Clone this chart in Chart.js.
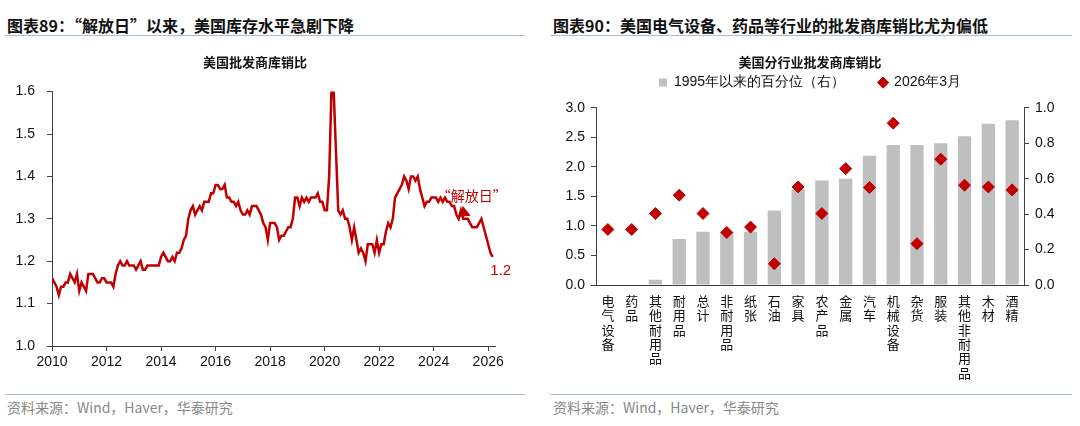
<!DOCTYPE html>
<html>
<head>
<meta charset="utf-8">
<script src="https://cdn.jsdelivr.net/npm/chart.js@4.4.1/dist/chart.umd.min.js"></script>
<style>
  body { margin: 0; width: 1080px; height: 426px; background: #fff; position: relative; overflow: hidden; font-family: "Noto Sans CJK SC", sans-serif; }
  .hd { position: absolute; top: 13px; font-size: 16px; font-weight: bold; color: #111; white-space: nowrap; }
  .rule { position: absolute; height: 1px; background: #a7bed5; }
  .src { position: absolute; top: 397px; font-size: 14px; color: #888; white-space: nowrap; }
  canvas { position: absolute; }
</style>
</head>
<body>
<div class="hd" style="left:7px">图表89：“解放日”以来，美国库存水平急剧下降</div>
<div class="rule" style="left:5px;top:35px;width:520px"></div>
<div class="hd" style="left:553px">图表90：美国电气设备、药品等行业的批发商库销比尤为偏低</div>
<div class="rule" style="left:550px;top:35px;width:522px"></div>

<canvas id="left" width="540" height="345" style="left:0;top:40px"></canvas>
<canvas id="right" width="540" height="350" style="left:540px;top:40px"></canvas>

<div class="rule" style="left:5px;top:394px;width:520px"></div>
<div class="src" style="left:7px">资料来源：Wind，Haver，华泰研究</div>
<div class="rule" style="left:550px;top:394px;width:522px"></div>
<div class="src" style="left:553px">资料来源：Wind，Haver，华泰研究</div>

<script>
// 美国批发商库销比, monthly from Jan 2010 to Mar 2026
const ratioStart = 2010;
const ratio = [
  1.16, 1.15, 1.14, 1.12, 1.14, 1.14, 1.15, 1.15, 1.17, 1.16, 1.15, 1.17,
  1.13, 1.15, 1.14, 1.13, 1.17, 1.17, 1.17, 1.16, 1.15, 1.15, 1.16, 1.16,
  1.15, 1.15, 1.15, 1.14, 1.17, 1.19, 1.20, 1.19, 1.19, 1.20, 1.19, 1.19,
  1.19, 1.18, 1.19, 1.20, 1.18, 1.18, 1.19, 1.19, 1.19, 1.19, 1.19, 1.19,
  1.21, 1.22, 1.21, 1.20, 1.20, 1.21, 1.20, 1.22, 1.22, 1.23, 1.25, 1.26,
  1.30, 1.32, 1.33, 1.31, 1.32, 1.33, 1.32, 1.34, 1.34, 1.34, 1.36, 1.36,
  1.38, 1.38, 1.37, 1.37, 1.38, 1.35, 1.35, 1.34, 1.34, 1.33, 1.34, 1.32,
  1.31, 1.31, 1.32, 1.31, 1.33, 1.33, 1.33, 1.32, 1.31, 1.29, 1.28, 1.25,
  1.29, 1.29, 1.29, 1.28, 1.25, 1.26, 1.26, 1.27, 1.28, 1.28, 1.30, 1.35,
  1.35, 1.33, 1.35, 1.34, 1.35, 1.34, 1.35, 1.35, 1.35, 1.36, 1.34, 1.34,
  1.32, 1.32, 1.40, 1.60, 1.60, 1.46, 1.32, 1.31, 1.32, 1.30, 1.30, 1.28,
  1.25, 1.28, 1.25, 1.22, 1.23, 1.22, 1.20, 1.24, 1.24, 1.24, 1.22, 1.25,
  1.22, 1.24, 1.24, 1.27, 1.29, 1.28, 1.30, 1.35, 1.36, 1.37, 1.38, 1.40,
  1.39, 1.37, 1.40, 1.40, 1.39, 1.40, 1.37, 1.35, 1.33, 1.34, 1.34, 1.35,
  1.35, 1.35, 1.34, 1.35, 1.34, 1.35, 1.34, 1.34, 1.33, 1.33, 1.31, 1.30,
  1.32, 1.30, 1.30, 1.30, 1.29, 1.28, 1.28, 1.28, 1.29, 1.30, 1.28, 1.26,
  1.24, 1.22, 1.21
];
const yearTicks = [2010, 2012, 2014, 2016, 2018, 2020, 2022, 2024, 2026];
const ratioTicks = [1.0, 1.1, 1.2, 1.3, 1.4, 1.5, 1.6];
const liberationIdx = 183; // 2025年4月
const liberationText = '“解放日”';

// 美国分行业批发商库销比
const sectors = ['电气设备', '药品', '其他耐用品', '耐用品', '总计', '非耐用品', '纸张', '石油', '家具',
  '农产品', '金属', '汽车', '机械设备', '杂货', '服装', '其他非耐用品', '木材', '酒精'];
const percentile = [0, 0, 0.03, 0.26, 0.30, 0.30, 0.30, 0.42, 0.54, 0.59, 0.60, 0.73, 0.79, 0.79, 0.80, 0.84, 0.91, 0.93];
const latest = [0.94, 0.94, 1.21, 1.52, 1.21, 0.89, 0.98, 0.36, 1.66, 1.21, 1.97, 1.65, 2.74, 0.70, 2.13, 1.69, 1.66, 1.61];
const leftTicks = [0, 0.5, 1.0, 1.5, 2.0, 2.5, 3.0];
const rightTicks = [0, 0.2, 0.4, 0.6, 0.8, 1.0];

const red = '#c00000';
const axisColor = '#404040';
const tickFont = { family: '"Liberation Sans", Arial, sans-serif', size: 14 };
const cjk = '"Noto Sans CJK SC", sans-serif';

const libPlugin = {
  id: 'libMarks',
  afterDatasetsDraw(chart) {
    const { ctx, scales: { x, y } } = chart;
    const px = x.getPixelForValue(ratioStart + liberationIdx / 12);
    const py = y.getPixelForValue(ratio[liberationIdx]);
    ctx.save();
    ctx.fillStyle = red;
    ctx.beginPath();
    ctx.moveTo(px - 5, py - 13);
    ctx.lineTo(px + 3, py - 3);
    ctx.lineTo(px - 8, py - 2);
    ctx.closePath();
    ctx.fill();
    ctx.font = '14px ' + cjk;
    ctx.textAlign = 'center';
    ctx.textBaseline = 'middle';
    ctx.fillText(liberationText, px + 4, py - 23);
    const last = ratio.length - 1;
    const lx = x.getPixelForValue(ratioStart + last / 12);
    const ly = y.getPixelForValue(ratio[last]);
    ctx.font = '15px "Liberation Sans", Arial, sans-serif';
    ctx.fillText(ratio[last].toFixed(1), lx + 8, ly + 14);
    ctx.restore();
  }
};

new Chart(document.getElementById('left'), {
  type: 'line',
  data: {
    datasets: [{
      data: ratio.map((v, i) => ({ x: ratioStart + i / 12, y: v })),
      borderColor: red,
      borderWidth: 2.5,
      pointRadius: 0,
      tension: 0
    }]
  },
  options: {
    responsive: false,
    animation: false,
    layout: { padding: { left: 15, right: 45, top: 6, bottom: 0 } },
    plugins: {
      legend: { display: false },
      tooltip: { enabled: false },
      title: {
        display: true,
        text: '美国批发商库销比',
        color: '#111',
        font: { family: cjk, size: 13, weight: 'bold' },
        padding: { top: 8, bottom: 22 }
      }
    },
    scales: {
      x: {
        type: 'linear',
        min: 2010,
        max: 2026.25,
        afterBuildTicks: s => { s.ticks = yearTicks.map(v => ({ value: v })); },
        afterFit: s => { s.height = 39; },
        ticks: { font: tickFont, color: '#111', padding: 3, maxRotation: 0, autoSkip: false, callback: v => String(v) },
        grid: { drawOnChartArea: false, tickLength: 5, color: axisColor },
        border: { color: axisColor }
      },
      y: {
        min: 1.0,
        max: 1.6,
        afterBuildTicks: s => { s.ticks = ratioTicks.map(v => ({ value: v })); },
        afterFit: s => { s.width = 37; },
        ticks: { font: tickFont, color: '#111', padding: 12, callback: v => v.toFixed(1) },
        grid: { drawOnChartArea: false, tickLength: 5, color: axisColor },
        border: { color: axisColor }
      }
    }
  },
  plugins: [libPlugin]
});

new Chart(document.getElementById('right'), {
  type: 'bar',
  data: {
    labels: sectors.map(s => s.split('')),
    datasets: [{
      type: 'line',
      label: '2026年3月',
      data: latest,
      yAxisID: 'y',
      showLine: false,
      pointStyle: 'rectRot',
      pointRadius: 6,
      pointHoverRadius: 6,
      backgroundColor: red,
      borderColor: red,
      order: 1
    }, {
      label: '1995年以来的百分位（右）',
      data: percentile,
      yAxisID: 'y1',
      backgroundColor: '#bfbfbf',
      barPercentage: 0.56,
      categoryPercentage: 1,
      pointStyle: 'rect',
      order: 2
    }]
  },
  options: {
    responsive: false,
    animation: false,
    layout: { padding: { left: 10, right: 10, top: 6, bottom: 0 } },
    plugins: {
      tooltip: { enabled: false },
      title: {
        display: true,
        text: '美国分行业批发商库销比',
        color: '#111',
        font: { family: cjk, size: 13, weight: 'bold' },
        padding: { top: 8, bottom: 0 }
      },
      // empty subtitle placed under the legend, as a gap above the plot
      subtitle: {
        display: true,
        text: '',
        weight: 500,
        font: { size: 1 },
        padding: { top: 7, bottom: 0 }
      },
      legend: {
        labels: {
          usePointStyle: true,
          boxWidth: 8,
          boxHeight: 8,
          padding: 6,
          color: '#111',
          font: { family: tickFont.family, size: 14 },
          sort: (a, b) => b.datasetIndex - a.datasetIndex,
          generateLabels: chart => Chart.defaults.plugins.legend.labels.generateLabels(chart)
            .map(l => l.datasetIndex === 1 ? { ...l, text: l.text + '\u3000\u3000' } : l)
        }
      }
    },
    scales: {
      x: {
        afterFit: s => { s.height = 105; },
        ticks: { font: { family: cjk, size: 13, lineHeight: 1.1 }, color: '#111', padding: 1, maxRotation: 0, autoSkip: false },
        grid: { display: false },
        border: { color: axisColor }
      },
      y: {
        position: 'left',
        min: 0,
        max: 3,
        afterBuildTicks: s => { s.ticks = leftTicks.map(v => ({ value: v })); },
        afterFit: s => { s.width = 46; },
        ticks: { font: tickFont, color: '#111', padding: 6, callback: v => v.toFixed(1) },
        grid: { drawOnChartArea: false, tickLength: 5, color: axisColor },
        border: { color: axisColor }
      },
      y1: {
        position: 'right',
        min: 0,
        max: 1,
        afterBuildTicks: s => { s.ticks = rightTicks.map(v => ({ value: v })); },
        afterFit: s => { s.width = 46; },
        ticks: { font: tickFont, color: '#111', padding: 6, callback: v => v.toFixed(1) },
        grid: { drawOnChartArea: false, tickLength: 5, color: axisColor },
        border: { color: axisColor }
      }
    }
  }
});
</script>
</body>
</html>
